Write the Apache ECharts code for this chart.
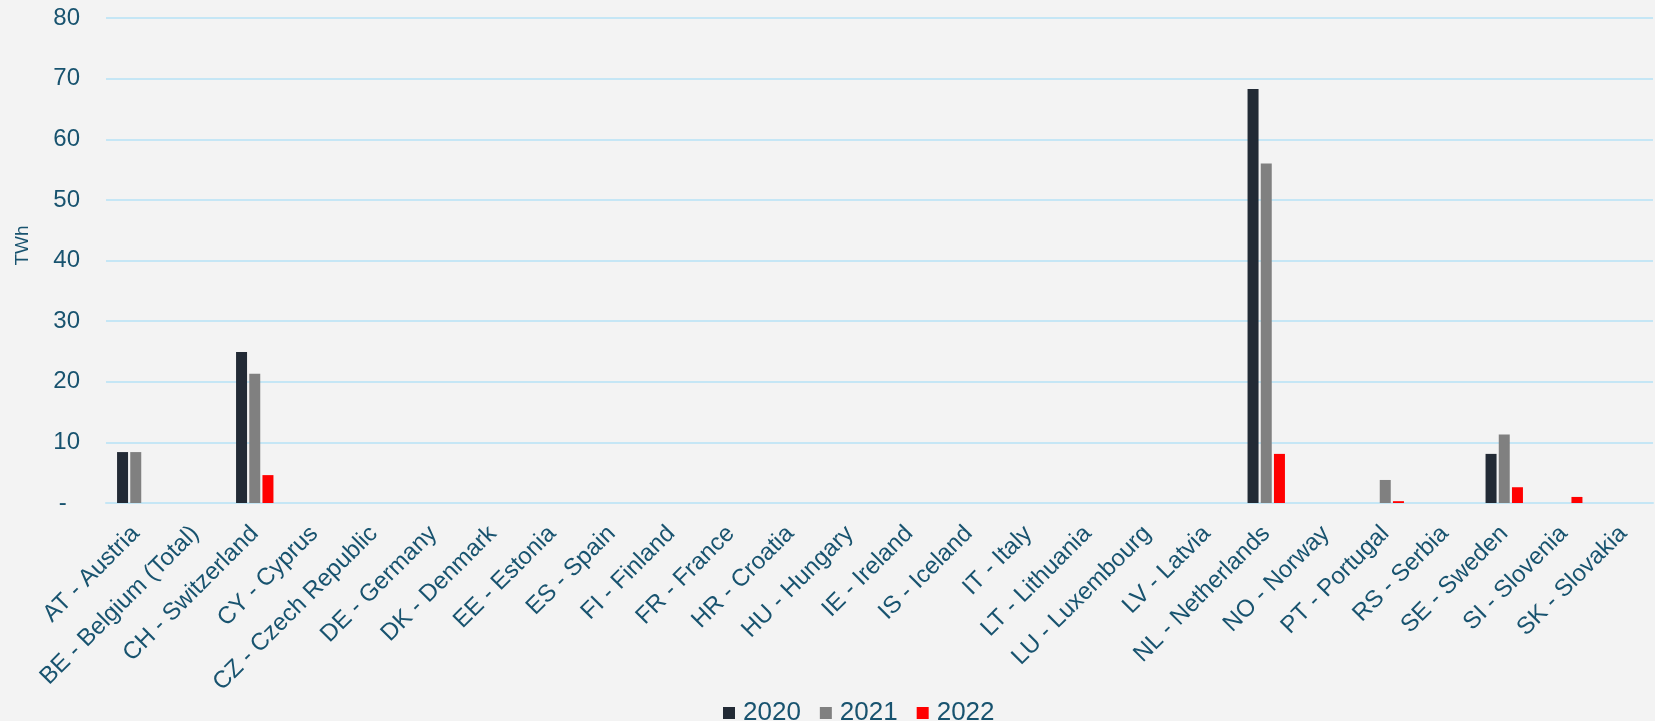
<!doctype html>
<html lang="en">
<head>
    <meta charset="UTF-8">
    <title>TWh by country</title>
    <script src="https://cdn.jsdelivr.net/npm/echarts@6/dist/echarts.min.js"></script>
    <style>
        html, body { margin: 0; padding: 0; background: #f3f3f3; }
        #chart { width: 1655px; height: 721px; }
    </style>
</head>
<body>
<div id="chart"></div>
<script type="text/javascript">
    // categories (x axis)
    var countries = ['AT - Austria', 'BE - Belgium (Total)', 'CH - Switzerland', 'CY - Cyprus',
        'CZ - Czech Republic', 'DE - Germany', 'DK - Denmark', 'EE - Estonia', 'ES - Spain',
        'FI - Finland', 'FR - France', 'HR - Croatia', 'HU - Hungary', 'IE - Ireland',
        'IS - Iceland', 'IT - Italy', 'LT - Lithuania', 'LU - Luxembourg', 'LV - Latvia',
        'NL - Netherlands', 'NO - Norway', 'PT - Portugal', 'RS - Serbia', 'SE - Sweden',
        'SI - Slovenia', 'SK - Slovakia'];

    // values in TWh
    var y2020 = [8.4, 0, 24.9, 0, 0, 0, 0, 0, 0, 0, 0, 0, 0, 0, 0, 0, 0, 0, 0, 68.3, 0, 0, 0, 8.1, 0, 0];
    var y2021 = [8.4, 0, 21.3, 0, 0, 0, 0, 0, 0, 0, 0, 0, 0, 0, 0, 0, 0, 0, 0, 56.0, 0, 3.8, 0, 11.3, 0, 0];
    var y2022 = [0, 0, 4.6, 0, 0, 0, 0, 0, 0, 0, 0, 0, 0, 0, 0, 0, 0, 0, 0, 8.1, 0, 0.3, 0, 2.6, 1.0, 0];

    var txt = '#18536f';
    var font = 'Liberation Sans, Arial, sans-serif';

    var myChart = echarts.init(document.getElementById('chart'));

    myChart.setOption({
        backgroundColor: '#f3f3f3',
        animation: false,
        textStyle: {fontFamily: font},
        grid: {left: 106, right: 2, top: 18, bottom: 218},
        legend: {
            left: 718,
            top: 695,
            itemWidth: 12,
            itemHeight: 12,
            itemGap: 19,
            icon: 'rect',
            textStyle: {color: txt, fontSize: 26, fontFamily: font, padding: [0, 0, 0, 3]},
            data: ['2020', '2021', '2022']
        },
        xAxis: {
            type: 'category',
            data: countries,
            axisLine: {lineStyle: {color: '#c5e6f5', width: 2}},
            axisTick: {show: false},
            axisLabel: {
                interval: 0,
                rotate: 45,
                margin: 27,
                color: txt,
                fontSize: 24,
                fontFamily: font
            }
        },
        yAxis: {
            type: 'value',
            min: 0,
            max: 80,
            interval: 10,
            name: 'TWh',
            nameLocation: 'middle',
            nameRotate: 90,
            nameGap: 74,
            nameTextStyle: {color: txt, fontSize: 19, fontFamily: font, padding: [0, 0, 0, 30]},
            axisLine: {show: false},
            axisTick: {show: false},
            splitLine: {lineStyle: {color: '#c5e6f5', width: 2}},
            axisLabel: {
                margin: 26,
                color: txt,
                fontSize: 24,
                fontFamily: font,
                formatter: function (v) { return v === 0 ? '-  ' : v; }
            }
        },
        series: [
            {name: '2020', type: 'bar', data: y2020, barWidth: 11, barGap: '20%',
                itemStyle: {color: '#222a35'}},
            {name: '2021', type: 'bar', data: y2021, barWidth: 11, barGap: '20%',
                itemStyle: {color: '#808080'}},
            {name: '2022', type: 'bar', data: y2022, barWidth: 11, barGap: '20%',
                itemStyle: {color: '#ff0000'}}
        ]
    });

    window.onresize = function () {
        myChart.resize();
    };
</script>
</body>
</html>
